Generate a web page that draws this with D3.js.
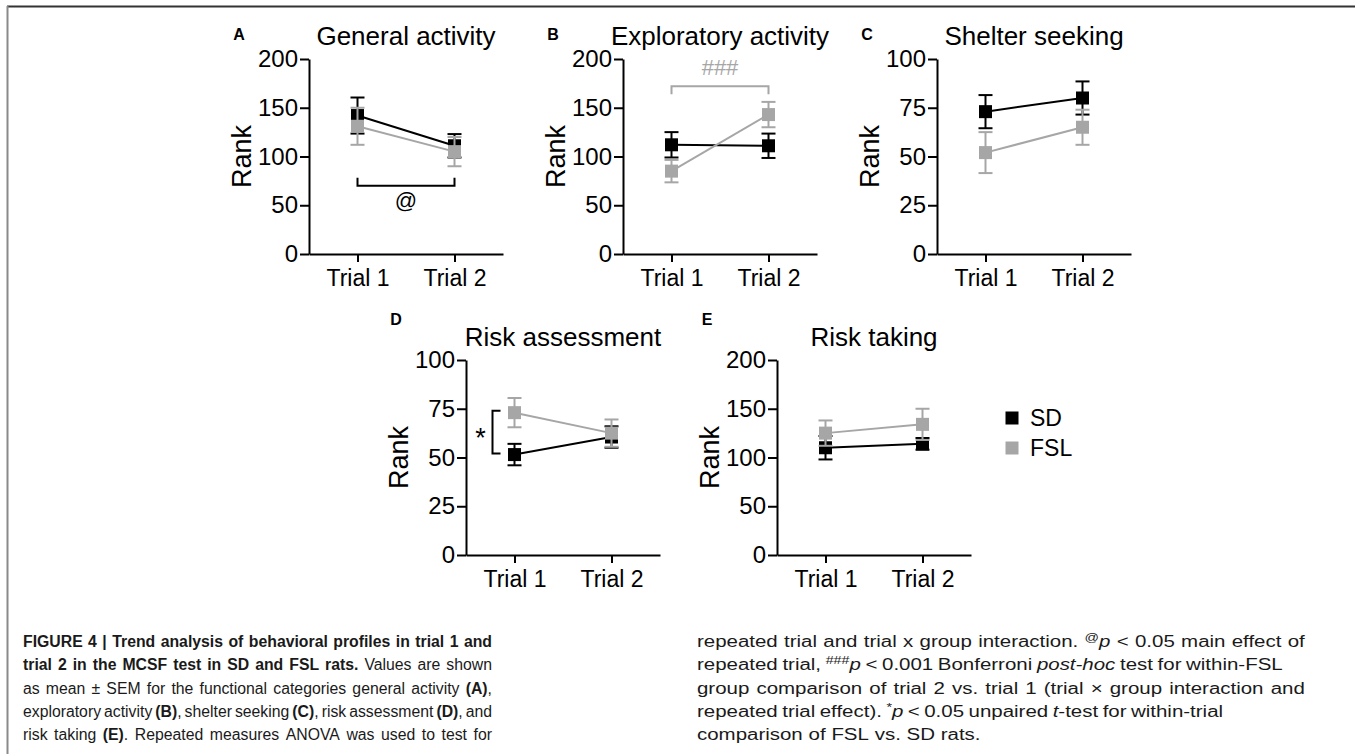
<!DOCTYPE html>
<html>
<head>
<meta charset="utf-8">
<script src="https://cdn.jsdelivr.net/npm/d3@7"></script>
<style>
  body { margin: 0; background: #fff; }
  svg text { font-family: "Liberation Sans", Arial, Helvetica, sans-serif; }
</style>
</head>
<body>
<div id="fig"></div>
<script>
// --- data ---
var trials = ['Trial 1', 'Trial 2'];
var groups = ['SD', 'FSL'];
var panelIds = ['A', 'B', 'C', 'D', 'E'];
var titles = ['General activity', 'Exploratory activity', 'Shelter seeking', 'Risk assessment', 'Risk taking'];
var yMax = [200, 200, 100, 100, 200];
var yTicks = [
  [0, 50, 100, 150, 200],
  [0, 50, 100, 150, 200],
  [0, 25, 50, 75, 100],
  [0, 25, 50, 75, 100],
  [0, 50, 100, 150, 200]
];
// mean and SEM per panel, [trial 1, trial 2]
var sdMean = [[142, 111], [112, 111], [73, 80], [51.5, 60.5], [110, 114]];
var sdSem = [[18.5, 12], [13, 12.5], [8.5, 8.5], [5.5, 5.5], [12, 6]];
var fslMean = [[131, 105], [85, 143], [52, 65], [73, 62.5], [125, 134]];
var fslSem = [[19, 15], [11.5, 13], [10.5, 9], [7.5, 7], [13, 16]];

// significance marks: panel, kind, level(s), label, which group it refers to
var sigPanel = [0, 1, 3];
var sigKind = ['h', 'h', 'v'];
var sigLevel = [[70], [172], [74, 52]];
var sigLabel = ['@', '###', '*'];
var sigGroup = ['both', 'FSL', 'both'];

var captionLeft = [
  '**FIGURE 4 | Trend analysis of behavioral profiles in trial 1 and**',
  '**trial 2 in the MCSF test in SD and FSL rats.** Values are shown',
  'as mean ± SEM for the functional categories general activity **(A)**,',
  'exploratory activity **(B)**, shelter seeking **(C)**, risk assessment **(D)**, and',
  'risk taking **(E)**. Repeated measures ANOVA was used to test for'
];
var captionRight = [
  'repeated trial and trial x group interaction. ^@^_p_ < 0.05 main effect of',
  'repeated trial, ^###^_p_ < 0.001 Bonferroni _post-hoc_ test for within-FSL',
  'group comparison of trial 2 vs. trial 1 (trial × group interaction and',
  'repeated trial effect). ^*^_p_ < 0.05 unpaired _t_-test for within-trial',
  'comparison of FSL vs. SD rats.'
];

// --- layout ---
var layout = [
  { x: 309, top: 59, labelY: 40 },
  { x: 623, top: 59, labelY: 40 },
  { x: 937, top: 59, labelY: 40 },
  { x: 466, top: 360, labelY: 325 },
  { x: 777, top: 360, labelY: 325 }
];
var W = 194, H = 195;
var gray = '#a6a6a6';
var color = { SD: '#000', FSL: gray };
var markerSize = 13, capW = 14;

var svg = d3.select('#fig').append('svg')
  .attr('width', 1355)
  .attr('height', 754);

// frame
svg.append('line').attr('x1', 7).attr('x2', 1355).attr('y1', 6.5).attr('y2', 6.5)
  .attr('stroke', '#333').attr('stroke-width', 2);
svg.append('line').attr('x1', 7.5).attr('x2', 7.5).attr('y1', 6).attr('y2', 754)
  .attr('stroke', '#8a8a8a').attr('stroke-width', 2);

panelIds.forEach(function (id, i) {
  var L = layout[i];
  var g = svg.append('g').attr('transform', 'translate(' + L.x + ',' + L.top + ')');

  var x = d3.scalePoint().domain(trials).range([0, W]).padding(0.5);
  var y = d3.scaleLinear().domain([0, yMax[i]]).range([H, 0]);

  var ya = g.append('g')
    .call(d3.axisLeft(y).tickValues(yTicks[i]).tickSize(9).tickPadding(2).tickSizeOuter(0));
  var xa = g.append('g')
    .attr('transform', 'translate(0,' + H + ')')
    .call(d3.axisBottom(x).tickSize(8).tickSizeOuter(0));

  [ya, xa].forEach(function (a) {
    a.attr('font-family', null).attr('font-size', null);
    a.selectAll('.domain, line').attr('stroke', '#000').attr('stroke-width', 2);
    a.selectAll('text').attr('fill', '#000');
  });
  ya.selectAll('text').style('font-size', '24px');
  xa.selectAll('text').style('font-size', '23px').attr('y', 32).attr('dy', null);

  g.append('text')
    .attr('transform', 'translate(-68,' + H / 2 + ') rotate(-90)')
    .attr('dy', '0.36em')
    .attr('text-anchor', 'middle')
    .style('font-size', '27px')
    .text('Rank');

  g.append('text')
    .attr('x', W / 2)
    .attr('y', -14)
    .attr('text-anchor', 'middle')
    .style('font-size', '26px')
    .text(titles[i]);

  svg.append('text')
    .attr('x', L.x - 70)
    .attr('y', L.labelY)
    .attr('text-anchor', 'middle')
    .style('font-size', '16px')
    .style('font-weight', 'bold')
    .text(id);

  // series: SD first, FSL on top
  var series = [
    { name: 'SD', mean: sdMean[i], sem: sdSem[i] },
    { name: 'FSL', mean: fslMean[i], sem: fslSem[i] }
  ];
  series.forEach(function (s) {
    var pts = trials.map(function (t, k) {
      return { t: t, m: s.mean[k], e: s.sem[k] };
    });
    var c = color[s.name];
    var sg = g.append('g');

    var eb = sg.selectAll('.eb').data(pts).enter().append('g')
      .attr('stroke', c).attr('stroke-width', 2);
    eb.append('line')
      .attr('x1', function (d) { return x(d.t); })
      .attr('x2', function (d) { return x(d.t); })
      .attr('y1', function (d) { return y(d.m - d.e); })
      .attr('y2', function (d) { return y(d.m + d.e); });
    [-1, 1].forEach(function (sgn) {
      eb.append('line')
        .attr('x1', function (d) { return x(d.t) - capW / 2; })
        .attr('x2', function (d) { return x(d.t) + capW / 2; })
        .attr('y1', function (d) { return y(d.m + sgn * d.e); })
        .attr('y2', function (d) { return y(d.m + sgn * d.e); });
    });

    sg.append('path')
      .datum(pts)
      .attr('fill', 'none')
      .attr('stroke', c)
      .attr('stroke-width', 2)
      .attr('d', d3.line().x(function (d) { return x(d.t); }).y(function (d) { return y(d.m); }));

    sg.selectAll('rect').data(pts).enter().append('rect')
      .attr('x', function (d) { return x(d.t) - markerSize / 2; })
      .attr('y', function (d) { return y(d.m) - markerSize / 2; })
      .attr('width', markerSize)
      .attr('height', markerSize)
      .attr('fill', c);
  });

  // significance marks
  sigPanel.forEach(function (p, k) {
    if (p !== i) return;
    var c = sigGroup[k] === 'FSL' ? gray : '#000';
    var x1 = x(trials[0]), x2 = x(trials[1]);
    if (sigKind[k] === 'h') {
      var yy = y(sigLevel[k][0]);
      var lowest = d3.min(sdMean[i].concat(fslMean[i]));
      var dir = sigLevel[k][0] < lowest ? -1 : 1; // ticks point toward the data
      g.append('path')
        .attr('fill', 'none').attr('stroke', c).attr('stroke-width', 2)
        .attr('d', 'M' + x1 + ',' + (yy + dir * 8) + 'V' + yy + 'H' + x2 + 'V' + (yy + dir * 8));
      g.append('text')
        .attr('x', (x1 + x2) / 2)
        .attr('y', dir < 0 ? yy + 22 : yy - 11)
        .attr('text-anchor', 'middle')
        .attr('fill', c)
        .style('font-size', '22px')
        .text(sigLabel[k]);
    } else {
      var ya1 = y(sigLevel[k][0]), ya2 = y(sigLevel[k][1]);
      var xv = x1 - 22;
      g.append('path')
        .attr('fill', 'none').attr('stroke', c).attr('stroke-width', 2)
        .attr('d', 'M' + (xv + 8) + ',' + ya1 + 'H' + xv + 'V' + ya2 + 'H' + (xv + 8));
      g.append('text')
        .attr('x', xv - 12)
        .attr('y', (ya1 + ya2) / 2 + 15)
        .attr('text-anchor', 'middle')
        .attr('fill', c)
        .style('font-size', '27px')
        .text(sigLabel[k]);
    }
  });
});

// legend
var lg = svg.append('g').attr('transform', 'translate(1012,418)');
groups.forEach(function (name, k) {
  lg.append('rect')
    .attr('x', -markerSize / 2).attr('y', k * 30 - markerSize / 2)
    .attr('width', markerSize).attr('height', markerSize)
    .attr('fill', color[name]);
  lg.append('text')
    .attr('x', 18).attr('y', k * 30 + 8)
    .style('font-size', '23px')
    .text(name);
});

// --- caption, justified line by line ---
var st = { b: false, i: false, s: false };
function parse(str) {
  var words = [], runs = [], buf = '';
  function flush() {
    if (buf) { runs.push({ t: buf, b: st.b, i: st.i, s: st.s }); buf = ''; }
  }
  for (var k = 0; k < str.length; k++) {
    var ch = str[k];
    if (ch === '*' && str[k + 1] === '*') { flush(); st.b = !st.b; k++; }
    else if (ch === '_') { flush(); st.i = !st.i; }
    else if (ch === '^') { flush(); st.s = !st.s; }
    else if (ch === ' ') { flush(); if (runs.length) words.push(runs); runs = []; }
    else buf += ch;
  }
  flush();
  if (runs.length) words.push(runs);
  return words;
}

var capFont = '"Liberation Sans Narrow", "Arial Narrow", "Liberation Sans", sans-serif';
function captionLine(str, x0, baseline, width, size, stretch) {
  var words = parse(str);
  var lg = svg.append('g');
  var nodes = words.map(function (runs) {
    var t = lg.append('text')
      .attr('y', baseline)
      .attr('fill', '#1a1a1a')
      .style('font-family', capFont)
      .style('font-size', size + 'px');
    var shift = 0;
    runs.forEach(function (r) {
      var want = r.s ? -6 : 0;
      t.append('tspan')
        .attr('dy', want - shift)
        .style('font-weight', r.b ? 'bold' : 'normal')
        .style('font-style', r.i ? 'italic' : 'normal')
        .style('font-size', r.s ? '11px' : null)
        .text(r.t);
      shift = want;
    });
    return t;
  });
  var widths = nodes.map(function (t) { return t.node().getComputedTextLength(); });
  var total = d3.sum(widths);
  var gap = width && words.length > 1 ? (width - total) / (words.length - 1) : size * 0.28;
  var scale = stretch;
  if (gap < 3) { scale = stretch * width / (total + 3 * (words.length - 1)); gap = 3; }
  var cx = 0;
  nodes.forEach(function (t, k) {
    t.attr('x', cx);
    cx += widths[k] + gap;
  });
  lg.attr('transform', 'translate(' + x0 + ',0) scale(' + scale + ',1)');
}

var capBase = [647, 670.3, 693.6, 716.9, 740.2];
var leftWidths = [469, 469, 469, 469, 469];
// the right column is the same column set wider on the page
var rightStretch = 1.296;
var rightWidths = [469, 452, 469, 406, null];
captionLeft.forEach(function (s, k) { captionLine(s, 23, capBase[k], leftWidths[k], 15.8, 1); });
captionRight.forEach(function (s, k) { captionLine(s, 697, capBase[k], rightWidths[k], 15.8, rightStretch); });
</script>
</body>
</html>
